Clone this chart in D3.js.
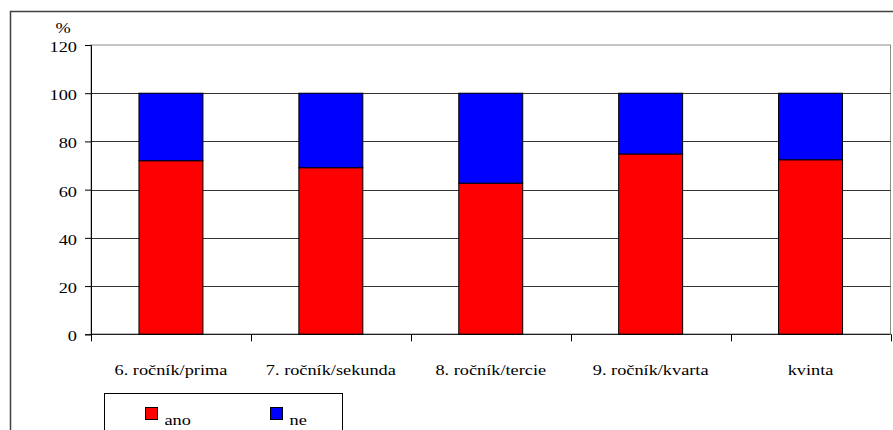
<!DOCTYPE html>
<html>
<head>
<meta charset="utf-8">
<script src="https://cdn.jsdelivr.net/npm/d3@7"></script>
<style>
  html, body { margin: 0; padding: 0; background: #fff; }
  svg { display: block; }
</style>
</head>
<body>
<svg id="chart" width="893" height="430"></svg>
<script>
// Grades and share of answers (%)
const categories = ["6. ročník/prima", "7. ročník/sekunda", "8. ročník/tercie", "9. ročník/kvarta", "kvinta"];
const ano = [72.0, 69.1, 62.7, 74.8, 72.4];
const ne = [28.0, 30.9, 37.3, 25.2, 27.6];
const yTicks = [0, 20, 40, 60, 80, 100, 120];
const seriesNames = ["ano", "ne"];
const seriesColors = ["#ff0000", "#0000ff"];

const FONT = "Liberation Serif";
const FS = 15;
const WIDEN = "scale(1.22,1)";   // the chart's type is set slightly wide

const svg = d3.select("#chart");

// places a text at (x, y) with the widened type
function label(sel, x, y) {
  return sel.attr("x", 0).attr("y", 0)
    .attr("transform", `translate(${x},${y}) ${WIDEN}`)
    .attr("font-family", FONT).attr("font-size", FS).attr("fill", "#000");
}

// outer frame (right and bottom edges fall outside the view)
svg.append("rect")
  .attr("x", 10.5).attr("y", 11.5)
  .attr("width", 900).attr("height", 440)
  .attr("fill", "#fff").attr("stroke", "#404040").attr("stroke-width", 1.5);

const plot = { left: 91, right: 890.5, top: 45, bottom: 334.3 };

const x = d3.scaleBand()
  .domain(categories)
  .range([plot.left, plot.right])
  .paddingInner(0.6).paddingOuter(0.3);

const xEdges = d3.scaleLinear().domain([0, categories.length]).range([plot.left, plot.right]);

const y = d3.scaleLinear().domain([0, 120]).range([plot.bottom, plot.top]);

// plot area border
svg.append("rect")
  .attr("x", plot.left).attr("y", plot.top)
  .attr("width", plot.right - plot.left).attr("height", plot.bottom - plot.top)
  .attr("fill", "none").attr("stroke", "#8c8c8c").attr("stroke-width", 1);

// horizontal gridlines
svg.append("g")
  .selectAll("line")
  .data(yTicks.filter(d => d > 0 && d < 120))
  .join("line")
  .attr("x1", plot.left).attr("x2", plot.right)
  .attr("y1", d => Math.round(y(d)) + 0.5).attr("y2", d => Math.round(y(d)) + 0.5)
  .attr("stroke", "#333").attr("stroke-width", 1);

// stacked bars
const stacked = d3.stack().keys([0, 1])(categories.map((c, i) => ({ 0: ano[i], 1: ne[i], cat: c })));
svg.append("g")
  .selectAll("g")
  .data(stacked)
  .join("g")
  .attr("fill", (d, i) => seriesColors[i])
  .selectAll("rect")
  .data(d => d)
  .join("rect")
  .attr("x", d => x(d.data.cat))
  .attr("width", x.bandwidth())
  .attr("y", d => y(d[1]))
  .attr("height", d => y(d[0]) - y(d[1]))
  .attr("stroke", "#000").attr("stroke-width", 1);

// y axis
const yAxis = d3.axisLeft(y).tickValues(yTicks).tickSize(6).tickFormat(d3.format("d"));
const gy = svg.append("g").attr("transform", `translate(${plot.left},0)`).call(yAxis);
gy.select(".domain").attr("stroke", "#000");
gy.selectAll(".tick line").attr("stroke", "#000");
gy.selectAll(".tick text").attr("dy", null).each(function () {
  label(d3.select(this), -14, 6.5).attr("text-anchor", "end");
});

label(svg.append("text"), 63, 33)
  .attr("text-anchor", "middle")
  .text("%");

// x axis: ticks at category boundaries
const gx = svg.append("g");
gx.append("line")
  .attr("x1", plot.left).attr("x2", plot.right)
  .attr("y1", plot.bottom).attr("y2", plot.bottom)
  .attr("stroke", "#000");
gx.selectAll("line.tk")
  .data(d3.range(categories.length + 1))
  .join("line")
  .attr("class", "tk")
  .attr("x1", d => Math.round(xEdges(d)) + 0.5).attr("x2", d => Math.round(xEdges(d)) + 0.5)
  .attr("y1", plot.bottom).attr("y2", plot.bottom + 7)
  .attr("stroke", "#000");
gx.selectAll("text")
  .data(categories)
  .join("text")
  .each(function (d) { label(d3.select(this), x(d) + x.bandwidth() / 2, 375); })
  .attr("text-anchor", "middle")
  .text(d => d);

// legend
const legend = svg.append("g");
legend.append("rect")
  .attr("x", 104.5).attr("y", 393.5)
  .attr("width", 238).attr("height", 60)
  .attr("fill", "#fff").attr("stroke", "#000").attr("stroke-width", 1);
const items = legend.selectAll("g.item")
  .data(seriesNames)
  .join("g")
  .attr("class", "item")
  .attr("transform", (d, i) => `translate(${145.5 + i * 125},407.5)`);
items.append("rect")
  .attr("width", 12).attr("height", 12)
  .attr("fill", (d, i) => seriesColors[i])
  .attr("stroke", "#000");
items.append("text")
  .each(function () { label(d3.select(this), 19, 17); })
  .text(d => d);
</script>
</body>
</html>
